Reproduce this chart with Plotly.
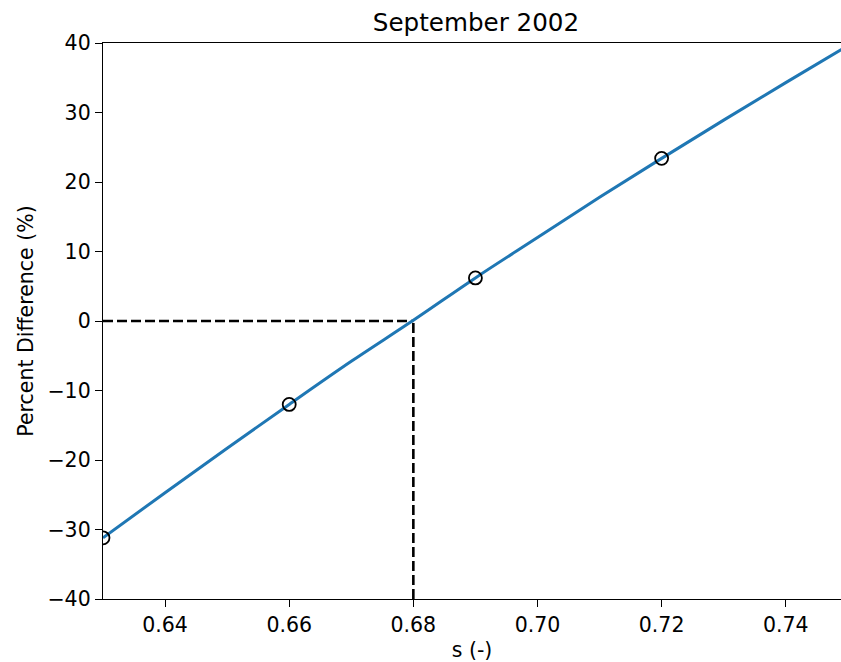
import plotly.graph_objects as go

# measured points
s_points = [0.63, 0.66, 0.69, 0.72]
pct_points = [-31.2, -12.0, 6.2, 23.4]

# fitted curve
s_curve = [0.63, 0.64, 0.65, 0.66, 0.67, 0.68, 0.69, 0.70, 0.71, 0.72, 0.73, 0.74, 0.75]
pct_curve = [-31.2, -24.7, -18.3, -12.0, -5.8, 0.1, 6.2, 12.0, 17.8, 23.4, 28.9, 34.3, 39.6]

# zero crossing guide
s_zero = 0.68
x_min, x_max = 0.63, 0.7489
y_min, y_max = -40, 40

x_ticks = [0.64, 0.66, 0.68, 0.70, 0.72, 0.74]
y_ticks = [-40, -30, -20, -10, 0, 10, 20, 30, 40]

font = "DejaVu Sans"
W, H = 841, 662

fig = go.Figure()
fig.add_trace(go.Scatter(x=[x_min, s_zero], y=[0, 0], mode="lines",
                         line=dict(color="black", width=2.6, dash="10px,4px"),
                         showlegend=False, hoverinfo="skip"))
fig.add_trace(go.Scatter(x=[s_zero, s_zero], y=[y_min, 0], mode="lines",
                         line=dict(color="black", width=2.6, dash="10px,4px"),
                         showlegend=False, hoverinfo="skip"))
fig.add_trace(go.Scatter(x=s_curve, y=pct_curve, mode="lines",
                         line=dict(color="#1f77b4", width=3, shape="spline"),
                         showlegend=False))
fig.add_trace(go.Scatter(x=s_points, y=pct_points, mode="markers",
                         marker=dict(size=13, color="rgba(0,0,0,0)",
                                     line=dict(color="black", width=1.8)),
                         showlegend=False, cliponaxis=True))

fig.update_layout(
    width=W, height=H, autosize=False,
    margin=dict(l=103, r=0, t=43, b=63),
    paper_bgcolor="white", plot_bgcolor="white",
    font=dict(family=font, size=20.5, color="black"),
    title=dict(text="September 2002", x=476 / W, xanchor="center",
               xref="container", yref="container",
               y=1 - 22 / H, yanchor="middle",
               font=dict(family=font, size=24.6, color="black")),
)
fig.update_xaxes(range=[x_min, x_max], tickvals=x_ticks,
                 ticktext=[f"{v:.2f}" for v in x_ticks],
                 showgrid=False, zeroline=False,
                 showline=True, linecolor="black", linewidth=1.4, mirror=True,
                 ticks="outside", ticklen=7, tickwidth=1.4, tickcolor="black",
                 title=dict(text="s (-)", standoff=6, font=dict(size=20.5)))
fig.update_yaxes(range=[y_min, y_max], tickvals=y_ticks,
                 showgrid=False, zeroline=False,
                 showline=True, linecolor="black", linewidth=1.4,
                 ticks="outside", ticklen=7, tickwidth=1.4, tickcolor="black",
                 title=dict(text="Percent Difference (%)", standoff=8, font=dict(size=20.5)))

fig.write_html("out.html",
               config={"displayModeBar": False},
               post_script="document.body.style.margin='0';document.body.style.overflow='hidden';")
